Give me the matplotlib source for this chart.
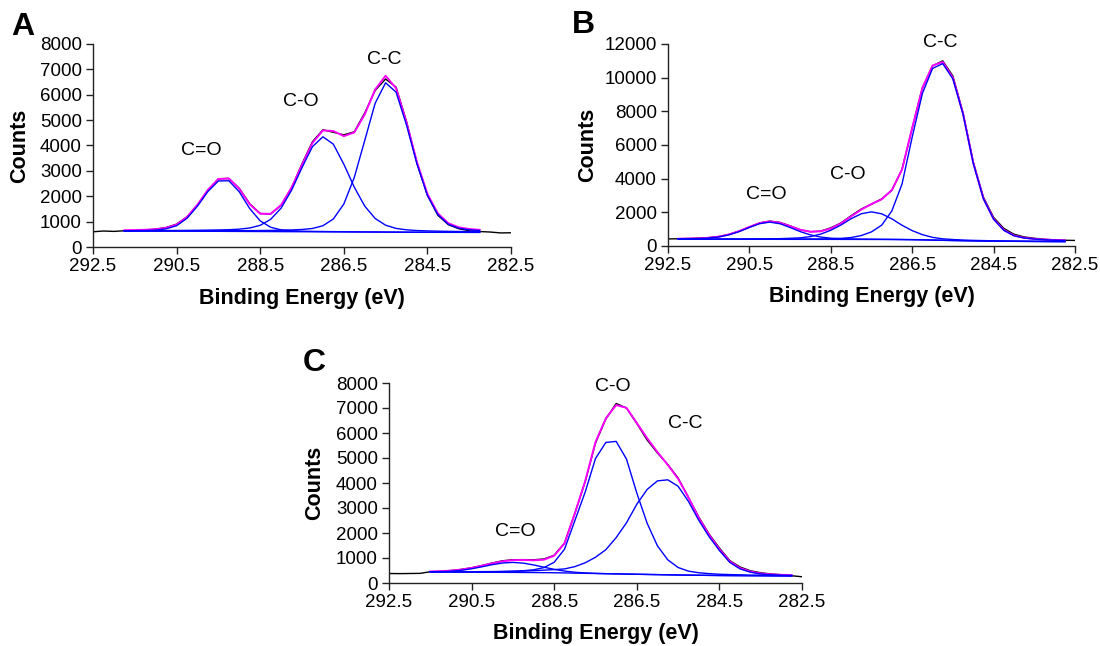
import matplotlib
matplotlib.use("Agg")
import matplotlib.pyplot as plt

plt.rcParams['font.family'] = ['Liberation Sans', 'DejaVu Sans']

# ---------------- Panel A ----------------
E_fit_A = [291.75, 291.5, 291.25, 291.0, 290.75, 290.5, 290.25, 290.0, 289.75, 289.5,
           289.25, 289.0, 288.75, 288.5, 288.25, 288.0, 287.75, 287.5, 287.25, 287.0,
           286.75, 286.5, 286.25, 286.0, 285.75, 285.5, 285.25, 285.0, 284.75, 284.5,
           284.25, 284.0, 283.75, 283.5, 283.25]
bg_A = [625, 625, 625, 624, 624, 623, 622, 621, 620, 618, 616, 614, 612, 610, 608, 606, 604, 602,
        600, 598, 596, 594, 592, 590, 588, 586, 584, 582, 580, 579, 578, 577, 577, 576, 576]
cdo_A = [637, 641, 649, 666, 716, 838, 1132, 1611, 2190, 2603, 2611, 2174, 1512, 1030, 778, 676,
         639, 624, 616, 610, 606, 602, 599, 596, 593, 590, 588, 585, 583, 582, 580, 579, 579, 578, 578]
co_A = [641, 643, 645, 646, 649, 652, 655, 659, 665, 672, 681, 704, 749, 854, 1090, 1531, 2237,
        3129, 3955, 4343, 4052, 3265, 2362, 1613, 1124, 859, 733, 677, 649, 634, 624, 616, 611, 605, 602]
cc_A = [634, 635, 636, 636, 638, 638, 639, 639, 640, 640, 641, 643, 645, 649, 654, 661, 672, 690,
        730, 837, 1104, 1691, 2737, 4194, 5665, 6472, 6104, 4807, 3275, 2033, 1275, 896, 739, 677, 648]
env_A = [662, 669, 680, 700, 755, 882, 1182, 1667, 2255, 2679, 2701, 2293, 1682, 1313, 1306, 1656,
         2340, 3239, 4101, 4594, 4570, 4370, 4514, 5223, 6206, 6749, 6257, 4905, 3347, 2091, 1323,
         937, 775, 708, 676]

E_raw = [292.5, 292.25, 292.0, 291.75, 291.5, 291.25, 291.0, 290.75, 290.5, 290.25, 290.0,
         289.75, 289.5, 289.25, 289.0, 288.75, 288.5, 288.25, 288.0, 287.75, 287.5, 287.25,
         287.0, 286.75, 286.5, 286.25, 286.0, 285.75, 285.5, 285.25, 285.0, 284.75, 284.5,
         284.25, 284.0, 283.75, 283.5, 283.25, 283.0, 282.75, 282.5]
raw_A = [600, 630, 615, 640, 650, 672, 705, 770, 900, 1190, 1660, 2240, 2690, 2700, 2310, 1700,
         1320, 1300, 1640, 2330, 3280, 4150, 4620, 4520, 4420, 4540, 5280, 6170, 6620, 6300, 4950,
         3300, 2040, 1250, 880, 720, 640, 610, 590, 555, 560]

# ---------------- Panel B ----------------
E_fit_B = [292.25, 292.0, 291.75, 291.5, 291.25, 291.0, 290.75, 290.5, 290.25, 290.0,
           289.75, 289.5, 289.25, 289.0, 288.75, 288.5, 288.25, 288.0, 287.75, 287.5,
           287.25, 287.0, 286.75, 286.5, 286.25, 286.0, 285.75, 285.5, 285.25, 285.0,
           284.75, 284.5, 284.25, 284.0, 283.75, 283.5, 283.25, 283.0, 282.75]
bg_B = [400, 400, 400, 400, 399, 399, 398, 398, 397, 397, 396, 396, 395, 395, 394, 394, 393, 392,
        391, 389, 387, 384, 379, 372, 362, 349, 336, 324, 313, 303, 295, 288, 282, 277, 273, 269,
        266, 263, 261]
cdo_B = [419, 426, 439, 470, 537, 664, 857, 1102, 1325, 1417, 1324, 1100, 854, 660, 532, 464, 432,
         418, 410, 404, 399, 395, 388, 380, 369, 355, 342, 329, 318, 307, 299, 292, 285, 280, 276,
         272, 269, 265, 263]
co_B = [407, 408, 409, 410, 411, 413, 415, 419, 423, 428, 437, 457, 485, 559, 706, 935, 1246, 1622,
        1916, 2029, 1912, 1614, 1232, 913, 674, 513, 426, 385, 354, 334, 321, 309, 299, 291, 285,
        279, 275, 271, 268]
cc_B = [406, 406, 407, 407, 407, 408, 408, 409, 409, 411, 412, 414, 415, 418, 421, 429, 453, 502,
        621, 839, 1237, 2084, 3679, 6472, 9062, 10549, 10836, 9924, 7813, 4903, 2795, 1588, 932,
        607, 473, 409, 371, 345, 329]
env_B = [432, 440, 455, 487, 557, 687, 884, 1134, 1363, 1462, 1381, 1179, 964, 847, 871, 1040,
         1345, 1758, 2165, 2494, 2774, 3325, 4541, 7021, 9381, 10719, 10932, 9990, 7859, 4938,
         2825, 1613, 952, 624, 488, 422, 383, 355, 338]
raw_B = [420, 430, 445, 470, 500, 560, 690, 880, 1130, 1370, 1480, 1400, 1200, 960, 850, 880,
         1080, 1370, 1800, 2200, 2480, 2800, 3300, 4550, 7000, 9400, 10700, 11000, 10100, 7900,
         5000, 2900, 1700, 1050, 700, 540, 460, 400, 360, 340, 330]

# ---------------- Panel C ----------------
E_fit_C = [291.5, 291.25, 291.0, 290.75, 290.5, 290.25, 290.0, 289.75, 289.5, 289.25,
           289.0, 288.75, 288.5, 288.25, 288.0, 287.75, 287.5, 287.25, 287.0, 286.75,
           286.5, 286.25, 286.0, 285.75, 285.5, 285.25, 285.0, 284.75, 284.5, 284.25,
           284.0, 283.75, 283.5, 283.25, 283.0, 282.75]
bg_C = [440, 438, 436, 434, 432, 430, 428, 426, 424, 421, 418, 414, 410, 403, 395, 388, 380, 372,
        365, 357, 350, 342, 335, 327, 320, 315, 310, 305, 300, 297, 295, 292, 290, 287, 285, 283]
cdo_C = [445, 453, 471, 508, 568, 648, 733, 800, 824, 795, 723, 632, 546, 477, 430, 403, 385, 374,
         366, 357, 350, 342, 335, 327, 320, 315, 310, 305, 300, 297, 295, 292, 290, 287, 285, 283]
co_C = [451, 451, 451, 451, 452, 455, 458, 464, 474, 491, 528, 614, 830, 1353, 2495, 3638, 4980,
        5622, 5665, 4957, 3600, 2392, 1485, 927, 620, 475, 410, 375, 350, 337, 327, 318, 312, 305,
        300, 296]
cc_C = [445, 444, 444, 444, 445, 447, 450, 456, 464, 476, 493, 514, 535, 563, 655, 808, 1030, 1332,
        1815, 2407, 3150, 3742, 4085, 4127, 3870, 3265, 2510, 1855, 1300, 827, 565, 432, 360, 327,
        310, 303]
env_C = [461, 472, 494, 535, 601, 690, 785, 868, 914, 920, 908, 932, 1091, 1587, 2790, 4073, 5635,
         6584, 7116, 7007, 6400, 5792, 5235, 4727, 4170, 3425, 2610, 1925, 1350, 867, 597, 458,
         382, 345, 325, 316]
raw_C = [380, 375, 380, 385, 450, 470, 500, 545, 610, 700, 800, 890, 930, 935, 930, 960, 1110,
         1600, 2780, 4050, 5600, 6560, 7180, 7000, 6380, 5720, 5200, 4740, 4200, 3420, 2640, 1960,
         1400, 900, 640, 490, 410, 360, 330, 290, 250]

x_ticks = [292.5, 290.5, 288.5, 286.5, 284.5, 282.5]
peak_names = ["C=O", "C-O", "C-C"]
label_pos_A = [(289.91, 3800), (287.52, 5750), (285.53, 7370)]
label_pos_B = [(290.08, 3060), (288.07, 4240), (285.80, 12080)]
label_pos_C = [(289.44, 2050), (287.09, 7850), (285.33, 6390)]

BLUE = '#0000ff'
MAG = '#ff00ff'

fig = plt.figure(figsize=(11, 6.46), dpi=100)
W, H = 1100.0, 646.0


def make_axes(left, right, top, bottom):
    return fig.add_axes([left / W, 1 - bottom / H, (right - left) / W, (bottom - top) / H])


def draw_panel(ax, E_fit, bg, cdo, co, cc, env, raw, ymax, ystep, labels, ylab_x, letter, letter_xy):
    ax.plot(E_raw, raw, color='black', lw=1.0, zorder=2)
    ax.plot(E_fit, env, color=MAG, lw=1.4, zorder=3)
    for comp in (bg, cdo, co, cc):
        ax.plot(E_fit, comp, color=BLUE, lw=1.0, zorder=4)
    ax.set_xlim(292.5, 282.5)
    ax.set_ylim(0, ymax)
    ax.set_xticks(x_ticks)
    ax.set_xticklabels(["%.1f" % t for t in x_ticks])
    ax.set_yticks(list(range(0, ymax + 1, ystep)))
    for s in ('top', 'right'):
        ax.spines[s].set_visible(False)
    for s in ('left', 'bottom'):
        ax.spines[s].set_color('#222222')
        ax.spines[s].set_linewidth(1.0)
    ax.tick_params(direction='out', length=5, width=1.0, color='#222222',
                   labelsize=13.5, pad=3)
    ax.set_xlabel("Binding Energy (eV)", fontsize=15.5, fontweight='bold')
    ax.set_ylabel("Counts", fontsize=15.5, fontweight='bold')
    ax.xaxis.set_label_coords(0.5, -0.2)
    ax.yaxis.set_label_coords(ylab_x, 0.5)
    for name, (xx, yy) in zip(peak_names, labels):
        ax.text(xx, yy, name, ha='center', va='center', fontsize=14, clip_on=False)
    fig.text(letter_xy[0] / W, 1 - letter_xy[1] / H, letter, fontsize=23, fontweight='bold',
             ha='center', va='center')


axA = make_axes(93, 511, 44, 247)
draw_panel(axA, E_fit_A, bg_A, cdo_A, co_A, cc_A, env_A, raw_A, 8000, 1000, label_pos_A,
           -0.15, "A", (23, 27))
axB = make_axes(668, 1075, 44, 246)
draw_panel(axB, E_fit_B, bg_B, cdo_B, co_B, cc_B, env_B, raw_B, 12000, 2000, label_pos_B,
           -0.172, "B", (583, 25))
axC = make_axes(389, 802, 383, 583)
draw_panel(axC, E_fit_C, bg_C, cdo_C, co_C, cc_C, env_C, raw_C, 8000, 1000, label_pos_C,
           -0.155, "C", (314, 363))

fig.savefig("out.png", dpi=100)
